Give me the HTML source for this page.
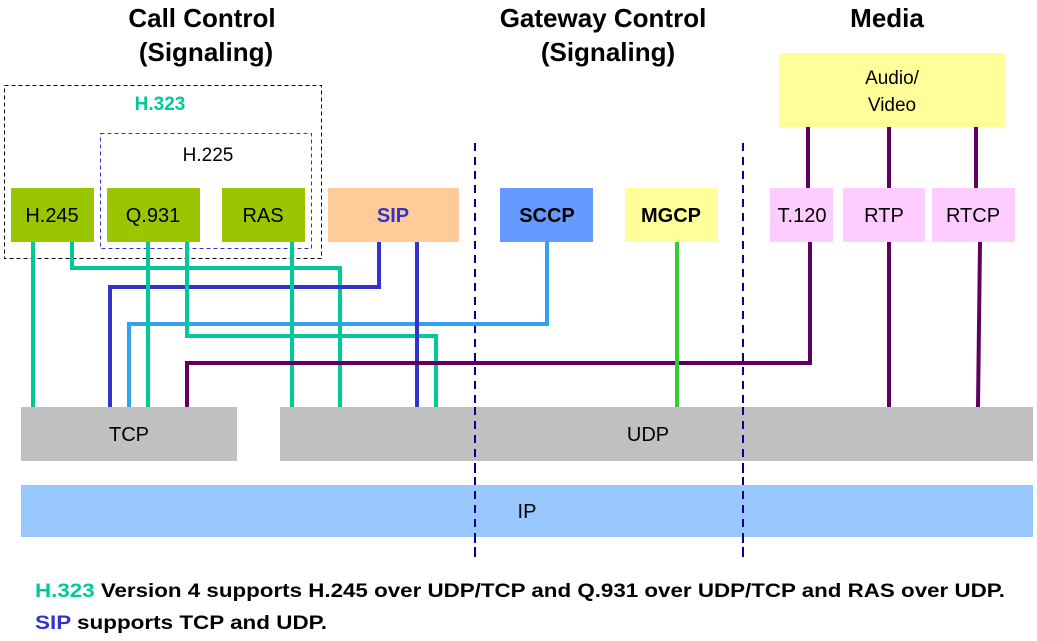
<!DOCTYPE html>
<html><head><meta charset="utf-8"><style>html,body{margin:0;padding:0;background:#fff}svg{display:block}</style></head>
<body>
<svg width="1037" height="641" viewBox="0 0 1037 641" xmlns="http://www.w3.org/2000/svg" font-family="Liberation Sans, Arial, sans-serif">
<g font-weight="bold" font-size="26" text-anchor="middle" fill="#000">
<text x="202" y="27">Call Control</text>
<text x="206" y="61">(Signaling)</text>
<text x="603" y="27">Gateway Control</text>
<text x="608" y="61">(Signaling)</text>
<text x="887" y="27">Media</text>
</g>
<rect x="4.5" y="85.5" width="317" height="173" fill="none" stroke="#000" stroke-dasharray="4,3"/>
<rect x="100.5" y="133.5" width="211" height="115" fill="none" stroke="#3333cc" stroke-dasharray="4,3"/>
<text x="160" y="110" font-size="19" font-weight="bold" fill="#00c896" text-anchor="middle">H.323</text>
<text x="208" y="161" font-size="19" fill="#000" text-anchor="middle">H.225</text>
<rect x="779" y="53" width="226" height="74" fill="#ffff99"/>
<text x="892" y="84" font-size="19" text-anchor="middle">Audio/</text>
<text x="892" y="111" font-size="19" text-anchor="middle">Video</text>
<g stroke="#5f0060" stroke-width="4" fill="none">
<line x1="808" y1="127" x2="808" y2="188"/><line x1="889" y1="127" x2="889" y2="188"/><line x1="976" y1="127" x2="976" y2="188"/>
</g>
<g stroke="#000099" stroke-width="2" stroke-dasharray="8,6"><line x1="475" y1="143" x2="475" y2="557"/><line x1="743" y1="143" x2="743" y2="557"/></g>
<rect x="21" y="407" width="216" height="54" fill="#c0c0c0"/>
<rect x="280" y="407" width="753" height="54" fill="#c0c0c0"/>
<rect x="21" y="485" width="1012" height="52" fill="#99c8ff"/>
<g stroke-dasharray="8,6" stroke="#000099" stroke-width="2"><line x1="475" y1="407" x2="475" y2="557"/><line x1="743" y1="407" x2="743" y2="557"/></g>
<g fill="none" stroke-width="4">
<polyline stroke="#00c896" points="33,242 33,407"/>
<polyline stroke="#00c896" points="72,236 72,268 340,268 340,407"/>
<polyline stroke="#3333cc" points="379,242 379,287 110,287 110,407"/>
<polyline stroke="#33a0f0" points="547,242 547,324 129,324 129,407"/>
<polyline stroke="#00c896" points="148,242 148,407"/>
<polyline stroke="#00c896" points="187,242 187,336 436,336 436,407"/>
<polyline stroke="#00c896" points="292,242 292,407"/>
<polyline stroke="#3333cc" points="417,242 417,407"/>
<polyline stroke="#5f0060" points="810,242 810,363 187,363 187,407"/>
<polyline stroke="#33cc33" points="677,242 677,407"/>
<polyline stroke="#5f0060" points="889,242 889,407"/>
<polyline stroke="#5f0060" points="980,242 978,407"/>
</g>
<g font-size="20" text-anchor="middle">
<rect x="11" y="188" width="83" height="54" fill="#99c600"/><text x="52" y="222">H.245</text>
<rect x="107" y="188" width="93" height="54" fill="#99c600"/><text x="153" y="222">Q.931</text>
<rect x="222" y="188" width="83" height="54" fill="#99c600"/><text x="263" y="222">RAS</text>
<rect x="328" y="188" width="131" height="54" fill="#ffcc99"/><text x="393" y="222" font-weight="bold" fill="#3333cc">SIP</text>
<rect x="500" y="188" width="93" height="54" fill="#6699ff"/><text x="547" y="222" font-weight="bold">SCCP</text>
<rect x="625" y="188" width="93" height="54" fill="#ffff99"/><text x="671" y="222" font-weight="bold">MGCP</text>
<rect x="770" y="188" width="63" height="54" fill="#ffccff"/><text x="802" y="222">T.120</text>
<rect x="843" y="188" width="82" height="54" fill="#ffccff"/><text x="884" y="222">RTP</text>
<rect x="932" y="188" width="83" height="54" fill="#ffccff"/><text x="973" y="222">RTCP</text>
<text x="129" y="441">TCP</text>
<text x="648" y="441">UDP</text>
<text x="527" y="518">IP</text>
</g>
<text x="35" y="597" font-size="19" font-weight="bold" textLength="970" lengthAdjust="spacingAndGlyphs"><tspan fill="#00c896">H.323</tspan> Version 4 supports H.245 over UDP/TCP and Q.931 over UDP/TCP and RAS over UDP.</text>
<text x="35" y="629" font-size="19" font-weight="bold" textLength="292" lengthAdjust="spacingAndGlyphs"><tspan fill="#3333cc">SIP</tspan> supports TCP and UDP.</text>
</svg>
</body></html>
